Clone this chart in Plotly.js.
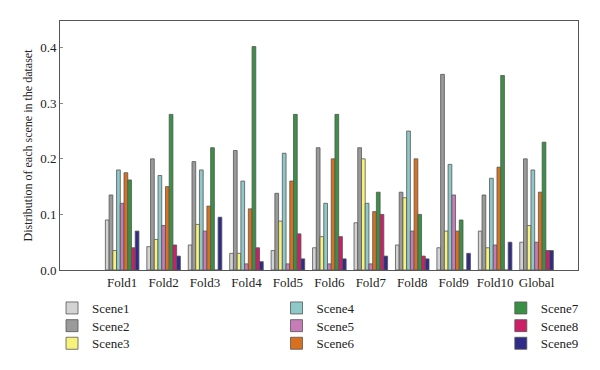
<!DOCTYPE html>
<html>
<head>
<meta charset="utf-8">
<script src="https://cdn.plot.ly/plotly-3.0.1.min.js"></script>
<style>html,body{margin:0;padding:0;background:#fff;}#chart{width:600px;height:370px;}</style>
</head>
<body>
<div id="chart"></div>
<script>
var categories = ['Fold1','Fold2','Fold3','Fold4','Fold5','Fold6','Fold7','Fold8','Fold9','Fold10','Global'];
var sceneNames = ['Scene1','Scene2','Scene3','Scene4','Scene5','Scene6','Scene7','Scene8','Scene9'];
var scene1 = [0.09, 0.042, 0.045, 0.03, 0.035, 0.04, 0.085, 0.045, 0.04, 0.07, 0.05];
var scene2 = [0.135, 0.2, 0.195, 0.215, 0.138, 0.22, 0.22, 0.14, 0.352, 0.135, 0.2];
var scene3 = [0.035, 0.055, 0.082, 0.03, 0.088, 0.06, 0.2, 0.13, 0.07, 0.04, 0.08];
var scene4 = [0.18, 0.17, 0.18, 0.16, 0.21, 0.12, 0.12, 0.25, 0.19, 0.165, 0.18];
var scene5 = [0.12, 0.08, 0.07, 0.011, 0.011, 0.011, 0.011, 0.07, 0.135, 0.045, 0.05];
var scene6 = [0.175, 0.15, 0.115, 0.11, 0.16, 0.2, 0.105, 0.2, 0.07, 0.185, 0.14];
var scene7 = [0.162, 0.28, 0.22, 0.402, 0.28, 0.28, 0.14, 0.1, 0.09, 0.35, 0.23];
var scene8 = [0.04, 0.045, 0, 0.04, 0.065, 0.06, 0.1, 0.025, 0, 0, 0.035];
var scene9 = [0.07, 0.025, 0.095, 0.015, 0.02, 0.02, 0.025, 0.02, 0.03, 0.05, 0.035];
var yTickVals = [0, 0.1, 0.2, 0.3, 0.4];
var yTickText = ['0.0', '0.1', '0.2', '0.3', '0.4'];

var sceneValues = [scene1, scene2, scene3, scene4, scene5, scene6, scene7, scene8, scene9];
var colors = ['#d3d3d3','#9a9a9a','#f7f27c','#8ec8c8','#c77cb7','#d8701f','#3a9045','#cd1f67','#2f2b86'];

var fam = 'Liberation Serif';
var font = {family: fam, size: 13, color: '#222'};

// one legend per scene, laid out in a 3 x 3 grid (column-major)
var legendCols = [-0.0154, 0.418, 0.851];
var legendRows = [-0.1526, -0.2237, -0.2944];

var traces = sceneNames.map(function(name, i){
  return {
    type: 'bar',
    name: name,
    x: categories,
    y: sceneValues[i],
    legend: i === 0 ? 'legend' : 'legend' + (i + 1),
    marker: {color: colors[i], line: {color: '#555', width: 0.8}},
    hoverinfo: 'skip'
  };
});

var layout = {
  width: 600, height: 370,
  margin: {l: 60, r: 22, t: 21, b: 100, autoexpand: false},
  paper_bgcolor: '#fff', plot_bgcolor: '#fff',
  font: font,
  barmode: 'group',
  bargap: 0.19,
  bargroupgap: 0,
  showlegend: true,
  xaxis: {
    type: 'category',
    range: [-1.5, 11],
    showline: true, mirror: true, linecolor: '#555', linewidth: 1,
    ticks: '', showgrid: false, zeroline: false,
    tickfont: {family: fam, size: 13, color: '#222'},
    fixedrange: true
  },
  yaxis: {
    range: [0, 0.448],
    tickvals: yTickVals, ticktext: yTickText,
    ticks: 'inside', ticklen: 3, tickcolor: '#888', tickwidth: 1,
    showline: true, mirror: true, linecolor: '#555', linewidth: 1,
    showgrid: false, zeroline: false,
    tickfont: {family: fam, size: 13, color: '#222'},
    title: {text: 'Distribution of each scene in the dataset', font: {family: fam, size: 12, color: '#222'}, standoff: 4},
    fixedrange: true
  }
};

sceneNames.forEach(function(name, i){
  var key = i === 0 ? 'legend' : 'legend' + (i + 1);
  layout[key] = {
    orientation: 'v', xanchor: 'left', yanchor: 'middle',
    x: legendCols[Math.floor(i / 3)], y: legendRows[i % 3],
    bgcolor: 'rgba(0,0,0,0)', borderwidth: 0,
    font: {family: fam, size: 13, color: '#222'}
  };
});

Plotly.newPlot('chart', traces, layout, {displayModeBar: false, staticPlot: true});
</script>
</body>
</html>
